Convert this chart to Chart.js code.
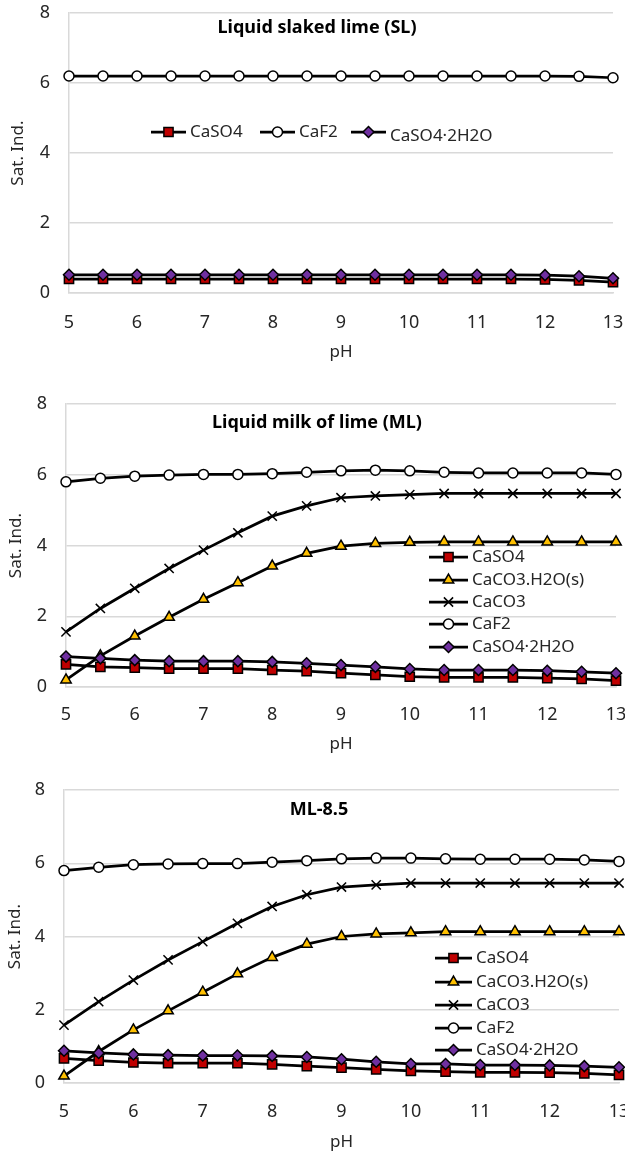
<!DOCTYPE html>
<html>
<head>
<meta charset="utf-8">
<script src="https://cdn.jsdelivr.net/npm/chart.js@4.4.0/dist/chart.umd.min.js"></script>
<style>
  body { margin: 0; background: #fff; }
  .panel { position: absolute; left: 0; }
</style>
</head>
<body>
<div class="panel" style="top:0"><canvas id="chartSL" width="625" height="365"></canvas></div>
<div class="panel" style="top:370px"><canvas id="chartML" width="625" height="390"></canvas></div>
<div class="panel" style="top:762px"><canvas id="chartML85" width="625" height="391"></canvas></div>
<script>
// pH steps (x values) and axis ticks
const phValues = [5, 5.5, 6, 6.5, 7, 7.5, 8, 8.5, 9, 9.5, 10, 10.5, 11, 11.5, 12, 12.5, 13];
const xTicks = [5, 6, 7, 8, 9, 10, 11, 12, 13];
const yTicks = [0, 2, 4, 6, 8];

// Liquid slaked lime (SL)
const slCaSO4 = [0.4, 0.4, 0.4, 0.4, 0.4, 0.4, 0.4, 0.4, 0.4, 0.4, 0.4, 0.4, 0.4, 0.4, 0.39, 0.36, 0.31];
const slCaF2 = [6.2, 6.2, 6.2, 6.2, 6.2, 6.2, 6.2, 6.2, 6.2, 6.2, 6.2, 6.2, 6.2, 6.2, 6.2, 6.19, 6.15];
const slCaSO42H2O = [0.52, 0.52, 0.52, 0.52, 0.52, 0.52, 0.52, 0.52, 0.52, 0.52, 0.52, 0.52, 0.52, 0.52, 0.51, 0.48, 0.42];

// Liquid milk of lime (ML)
const mlCaSO4 = [0.64, 0.57, 0.55, 0.52, 0.52, 0.52, 0.48, 0.45, 0.39, 0.34, 0.29, 0.27, 0.27, 0.27, 0.25, 0.23, 0.18];
const mlCaCO3H2O = [0.2, 0.88, 1.44, 1.97, 2.48, 2.95, 3.42, 3.78, 3.98, 4.06, 4.09, 4.1, 4.1, 4.1, 4.1, 4.1, 4.1];
const mlCaCO3 = [1.56, 2.22, 2.79, 3.35, 3.87, 4.36, 4.83, 5.12, 5.35, 5.4, 5.44, 5.47, 5.47, 5.47, 5.47, 5.47, 5.47];
const mlCaF2 = [5.8, 5.9, 5.96, 5.99, 6.01, 6.01, 6.03, 6.07, 6.11, 6.13, 6.11, 6.07, 6.05, 6.05, 6.05, 6.05, 6.01];
const mlCaSO42H2O = [0.86, 0.81, 0.76, 0.73, 0.73, 0.73, 0.71, 0.67, 0.62, 0.57, 0.51, 0.48, 0.48, 0.48, 0.46, 0.43, 0.39];

// ML-8.5
const m85CaSO4 = [0.67, 0.61, 0.56, 0.54, 0.54, 0.54, 0.51, 0.46, 0.42, 0.37, 0.33, 0.31, 0.29, 0.29, 0.28, 0.26, 0.22];
const m85CaCO3H2O = [0.19, 0.86, 1.45, 1.97, 2.48, 2.98, 3.43, 3.79, 4.0, 4.07, 4.1, 4.13, 4.13, 4.13, 4.13, 4.13, 4.13];
const m85CaCO3 = [1.58, 2.22, 2.81, 3.36, 3.86, 4.36, 4.82, 5.14, 5.35, 5.41, 5.46, 5.46, 5.46, 5.46, 5.46, 5.46, 5.46];
const m85CaF2 = [5.8, 5.89, 5.96, 5.98, 5.99, 5.99, 6.03, 6.07, 6.12, 6.14, 6.14, 6.12, 6.11, 6.11, 6.11, 6.09, 6.05];
const m85CaSO42H2O = [0.88, 0.82, 0.78, 0.76, 0.75, 0.75, 0.74, 0.71, 0.65, 0.58, 0.52, 0.52, 0.49, 0.49, 0.48, 0.46, 0.43];

const FONT = "'Noto Sans', 'Noto Sans CJK KR', sans-serif";
const TEXT = "#262626";

// marker look per mineral
const markers = {
  "CaSO4": { pointStyle: "rect", radius: 6.5, fill: "#c00000" },
  "CaCO3.H2O(s)": { pointStyle: "triangle", radius: 6, fill: "#ffc000" },
  "CaCO3": { pointStyle: "crossRot", radius: 6.5, fill: "#000000" },
  "CaF2": { pointStyle: "circle", radius: 5, fill: "#ffffff" },
  "CaSO4·2H2O": { pointStyle: "rectRot", radius: 5.5, fill: "#7030a0" }
};

function makeDataset(label, values, i, n) {
  const m = markers[label];
  return {
    label,
    data: values.map((v, k) => ({ x: phValues[k], y: v })),
    borderColor: "#000",
    borderWidth: 2.75,
    pointStyle: m.pointStyle,
    pointRadius: m.radius,
    pointBackgroundColor: m.fill,
    pointBorderColor: "#000",
    pointBorderWidth: 1.5,
    tension: 0,
    clip: false,
    order: n - 1 - i
  };
}

// draws the in-plot title and the custom legend
const overlay = {
  id: "overlay",
  afterDraw(chart, args, opts) {
    const ctx = chart.ctx;
    ctx.save();
    ctx.fillStyle = "#000";
    ctx.font = "bold 18px " + FONT;
    ctx.textAlign = "center";
    ctx.textBaseline = "middle";
    ctx.fillText(opts.title.text, opts.title.x, opts.title.y);

    const lg = opts.legend;
    ctx.font = "17px " + FONT;
    ctx.textAlign = "left";
    chart.data.datasets.forEach((ds, i) => {
      const x = lg.horizontal ? lg.xs[i] : lg.x;
      const y = lg.horizontal ? lg.y : lg.ys[i];
      const m = markers[ds.label];
      ctx.strokeStyle = "#000";
      ctx.lineWidth = 2.75;
      ctx.beginPath();
      ctx.moveTo(x, y);
      ctx.lineTo(x + lg.len, y);
      ctx.stroke();
      ctx.fillStyle = m.fill;
      ctx.lineWidth = 1.5;
      Chart.helpers.drawPoint(ctx, { pointStyle: m.pointStyle, radius: m.radius, borderWidth: 1.5, rotation: 0 }, x + lg.len / 2, y);
      ctx.fillStyle = TEXT;
      const dy = lg.dy ? lg.dy[i] : 0;
      ctx.fillText(ds.label, x + lg.len + 4, y + dy);
    });
    ctx.restore();
  }
};

function makeChart(id, series, geo) {
  const datasets = series.map((s, i) => makeDataset(s[0], s[1], i, series.length));
  return new Chart(document.getElementById(id), {
    type: "line",
    data: { datasets },
    plugins: [overlay],
    options: {
      responsive: false,
      animation: false,
      layout: { padding: geo.padding, autoPadding: false },
      plugins: {
        legend: { display: false },
        tooltip: { enabled: false },
        overlay: { title: geo.title, legend: geo.legend }
      },
      scales: {
        x: {
          type: "linear",
          min: 5,
          max: 13,
          afterBuildTicks: s => { s.ticks = xTicks.map(v => ({ value: v })); },
          afterFit: s => {
            s.height = geo.xAxisHeight;
            s.paddingLeft = 0;
            s.paddingRight = 0;
          },
          grid: { display: false, drawTicks: false },
          border: { display: true, color: "#d9d9d9", width: 1.5 },
          ticks: { padding: geo.xTickPad, color: TEXT, font: { family: FONT, size: 18 } },
          title: { display: true, text: "pH", color: TEXT, font: { family: FONT, size: 17 }, padding: { top: 0, bottom: 0 } }
        },
        y: {
          min: 0,
          max: 8,
          afterBuildTicks: s => { s.ticks = yTicks.map(v => ({ value: v })); },
          afterFit: s => {
            s.width = geo.yAxisWidth;
            s.paddingTop = 0;
            s.paddingBottom = 0;
          },
          grid: { color: "#d9d9d9", lineWidth: 1.5, drawTicks: false },
          border: { display: true, color: "#d9d9d9", width: 1.5 },
          ticks: { padding: 19, color: TEXT, font: { family: FONT, size: 18 } },
          title: { display: true, text: "Sat. Ind.", color: TEXT, font: { family: FONT, size: 17 }, padding: { top: geo.yTitlePad, bottom: 0 } }
        }
      }
    }
  });
}

makeChart("chartSL", [
  ["CaSO4", slCaSO4],
  ["CaF2", slCaF2],
  ["CaSO4·2H2O", slCaSO42H2O]
], {
  padding: { top: 13, right: 12, bottom: 3, left: 0 },
  yAxisWidth: 69, xAxisHeight: 69, xTickPad: 19, yTitlePad: 8,
  title: { text: "Liquid slaked lime (SL)", x: 317, y: 28 },
  legend: { horizontal: true, y: 132, xs: [151, 260, 351], len: 35, dy: [0, 0, 4] }
});

makeChart("chartML", [
  ["CaSO4", mlCaSO4],
  ["CaCO3.H2O(s)", mlCaCO3H2O],
  ["CaCO3", mlCaCO3],
  ["CaF2", mlCaF2],
  ["CaSO4·2H2O", mlCaSO42H2O]
], {
  padding: { top: 34, right: 9, bottom: 6, left: 0 },
  yAxisWidth: 66, xAxisHeight: 67, xTickPad: 17, yTitlePad: 6,
  title: { text: "Liquid milk of lime (ML)", x: 317, y: 53 },
  legend: { horizontal: false, x: 429, ys: [187, 210, 232, 254, 277], len: 39 }
});

makeChart("chartML85", [
  ["CaSO4", m85CaSO4],
  ["CaCO3.H2O(s)", m85CaCO3H2O],
  ["CaCO3", m85CaCO3],
  ["CaF2", m85CaF2],
  ["CaSO4·2H2O", m85CaSO42H2O]
], {
  padding: { top: 28, right: 6, bottom: 1, left: 0 },
  yAxisWidth: 64, xAxisHeight: 69, xTickPad: 18, yTitlePad: 5,
  title: { text: "ML-8.5", x: 319, y: 48 },
  legend: { horizontal: false, x: 435, ys: [196, 220, 243, 266, 288], len: 37 }
});
</script>
</body>
</html>
